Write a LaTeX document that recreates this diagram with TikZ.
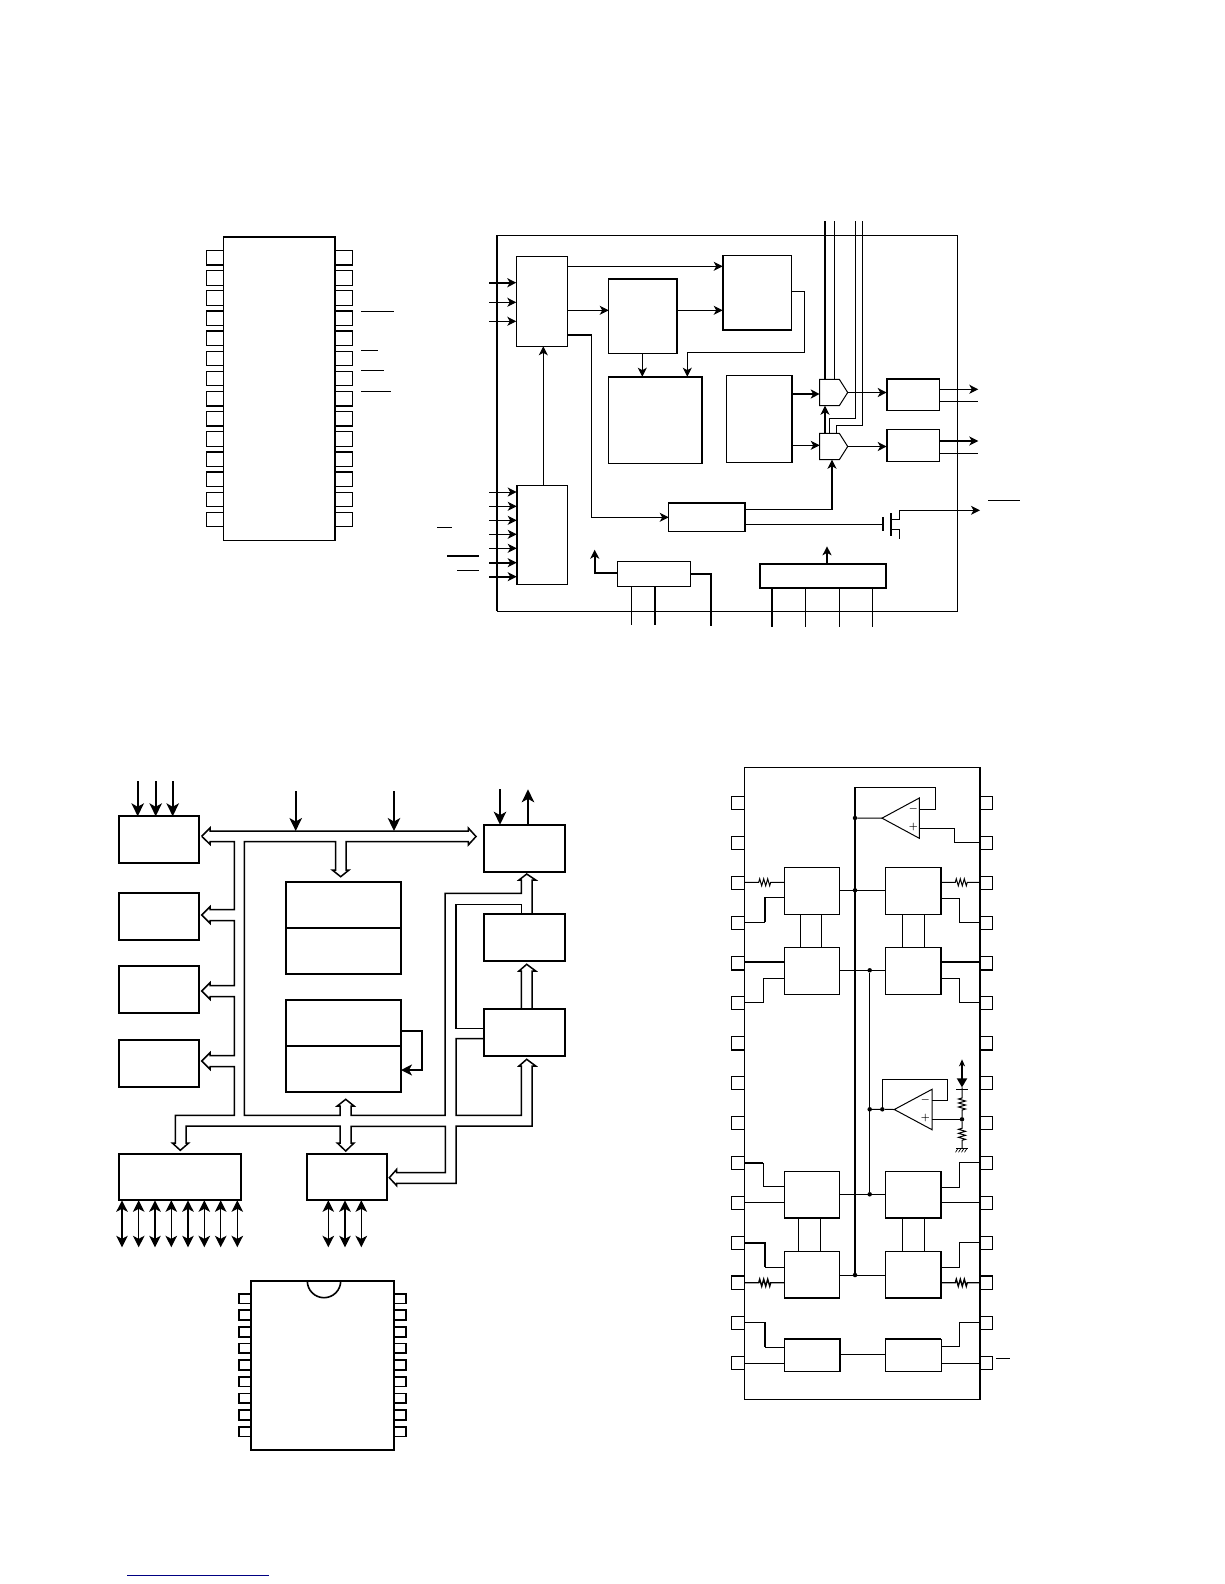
\documentclass[tikz,border=0pt]{standalone}
\usetikzlibrary{arrows.meta,calc}
\tikzset{
  box/.style={draw=black,line width=1pt,fill=white,rectangle,inner sep=0pt,outer sep=0pt,anchor=north west},
  hid/.style={rectangle,inner sep=0pt,outer sep=0pt,anchor=north west},
  wire/.style={line width=1pt,line join=miter},
  fat/.style={line width=1.9pt,line join=miter},
  ar/.style={-{Stealth[length=9pt,width=9pt,inset=2.5pt]}},
  dar/.style={{Stealth[length=11.5pt,width=11.5pt,inset=3pt]}-{Stealth[length=11.5pt,width=11.5pt,inset=3pt]}},
  hollow/.style={line width=1.5pt,line join=miter},
  dot/.style={circle,fill=black,inner sep=0pt,minimum size=4.5pt,outer sep=0pt},
  sign/.style={font=\fontsize{10}{10}\selectfont\boldmath,inner sep=0pt},
}
% [style], x1, y1, x2, y2, name
\newcommand{\bx}[6][]{%
  \pgfmathsetmacro{\bw}{#4-#2}\pgfmathsetmacro{\bh}{#5-#3}%
  \node[box,#1,minimum width=\bw pt,minimum height=\bh pt] (#6) at (#2,#3) {};}
\def\zigh{-- ++(1,-3.5) -- ++(2,7) -- ++(2,-7) -- ++(2,7) -- ++(2,-7) -- ++(2,7) -- ++(1,-3.5)}
\def\zigv{-- ++(-3.5,1) -- ++(7,2) -- ++(-7,2) -- ++(7,2) -- ++(-7,2) -- ++(7,2) -- ++(-3.5,1)}
\begin{document}
\begin{tikzpicture}[x=1pt,y=-1pt]
\useasboundingbox (0,0) rectangle (1224,1584);

%% ---------- first package ----------
\foreach \i in {0,...,13}{
  \pgfmathsetmacro{\py}{250.3+20.15*\i}
  \node[box,minimum width=17.5pt,minimum height=14.6pt] (aL\i) at (206.3,\py) {};
  \node[box,minimum width=17.5pt,minimum height=14.6pt] (aR\i) at (335.3,\py) {};
}
\foreach \i in {3,4,10,11}{
  \draw[fat] (aL\i.north west)--(aL\i.north east);
  \draw[fat] (aR\i.north west)--(aR\i.north east);
}
\foreach \i in {0,7,8}{
  \draw[fat] (aL\i.south west)--(aL\i.south east);
  \draw[fat] (aR\i.south west)--(aR\i.south east);
}
\node[box,line width=1.4pt,minimum width=112pt,minimum height=304pt] (icA) at (223.3,236.7) {};
\draw[fat] (icA.north west)--(icA.north east);
\draw[fat] (icA.north east)--(icA.south east);
\coordinate (ba1) at (361,311); \coordinate (ba1e) at (394,311);
\coordinate (ba2) at (361,350.3); \coordinate (ba2e) at (378,350.3);
\coordinate (ba3) at (361,370.3); \coordinate (ba3e) at (384,370.3);
\coordinate (ba4) at (361,391.3); \coordinate (ba4e) at (391,391.3);
\foreach \i in {1,2,3,4}{\draw[wire] (ba\i)--(ba\i e);}

%% ---------- first block diagram ----------
\bx{497}{235.3}{957.3}{611.3}{frame}
\draw[fat] (frame.north west)--(frame.south west);
\bx{516.3}{256.3}{567.7}{346.3}{A}
\bx{516.7}{485.3}{567.7}{584.3}{Bb}
\draw[fat] (Bb.north west)--(Bb.south west);
\bx{608.7}{278.7}{677}{353.3}{Cc}
\draw[fat] (Cc.north west)--(Cc.north east)--(Cc.south east);
\bx{608.7}{376.7}{702.3}{463.3}{Dd}
\draw[fat] (Dd.north west)--(Dd.north east)--(Dd.south east);
\bx{722.7}{255.3}{791.7}{330}{Ee}
\draw[fat] (Ee.north west)--(Ee.south west)--(Ee.south east);
\bx{726.3}{375.3}{792.3}{462.3}{Ff}
\draw[fat] (Ff.north east)--(Ff.south east);
\bx{668.7}{502.7}{745.3}{531.3}{Gg}
\draw[fat] (Gg.north west)--(Gg.north east)--(Gg.south east);
\bx{617.3}{561.3}{690.7}{586.3}{Hh}
\bx[line width=1.9pt]{760}{564}{886.3}{588}{Ii}
\bx{886.7}{378.7}{939.7}{410.3}{Jj}
\draw[fat] (Jj.south west)--(Jj.north west)--(Jj.north east);
\bx{886.7}{429.3}{939.7}{461.3}{Kk}
\draw[fat] (Kk.north west)--(Kk.south west);
\node[hid,minimum width=28pt,minimum height=26.4pt] (g1) at (819.7,379.3) {};
\node[hid,minimum width=28pt,minimum height=26.4pt] (g2) at (819.7,433.3) {};
\foreach \g in {g1,g2}{
  \draw[line width=1pt] (\g.north west) -- ($(\g.north east)+(-8.4,0)$) -- (\g.east) -- ($(\g.south east)+(-8.4,0)$) -- (\g.south west) -- cycle;
}
% inputs of A
\coordinate (ia1) at (489,282.7); \coordinate (ia2) at (489,302.3); \coordinate (ia3) at (489,321.3);
\draw[fat,ar] (ia1) -- (A.west |- ia1);
\draw[wire,ar] (ia2) -- (A.west |- ia2);
\draw[wire,ar] (ia3) -- (A.west |- ia3);
% inputs of B
\foreach \n/\y/\s in {1/492/wire,2/506.3/wire,3/520.3/wire,4/534.3/wire,5/548.3/wire,6/562.7/fat,7/576.7/fat}{
  \coordinate (ib\n) at (489,\y);
  \draw[\s,ar] (ib\n) -- (Bb.west |- ib\n);
}
\coordinate (ob1) at (437,527.3); \coordinate (ob1e) at (451.7,527.3);
\coordinate (ob2) at (447,556); \coordinate (ob2e) at (478.7,556);
\coordinate (ob3) at (457,570.3); \coordinate (ob3e) at (478.7,570.3);
\draw[wire] (ob1)--(ob1e); \draw[fat] (ob2)--(ob2e); \draw[wire] (ob3)--(ob3e);
% connections
\draw[wire,ar] (Bb.north -| 543.3,0) -- (A.south -| 543.3,0);
\draw[wire,ar] (A.east |- 0,266.3) -- (Ee.west |- 0,266.3);
\draw[wire,ar] (A.east |- 0,310.3) -- (Cc.west |- 0,310.3);
\draw[wire,ar] (Cc.east |- 0,310.3) -- (Ee.west |- 0,310.3);
\draw[fat] (A.east |- 0,334.7) -- (591.7,334.7);
\draw[wire,ar] (591.7,334.7) -- (591.7,517.3) -- (Gg.west |- 0,517.3);
\draw[wire,ar] (642.3,353.3) -- (642.3,376.7);
\draw[wire,ar] (Ee.east |- 0,291.3) -- (804.3,291.3) -- (804.3,352.3) -- (687.3,352.3) -- (Dd.north -| 687.3,0);
\draw[fat,ar] (Ff.east |- 0,394) -- (g1.west |- 0,394);
\draw[wire,ar] (Ff.east |- 0,445.3) -- (g2.west |- 0,445.3);
\draw[wire,ar] (g1.east) -- (Jj.west |- g1.east);
\draw[wire,ar] (g2.east) -- (Kk.west |- g2.east);
\coordinate (oj1) at (978.3,389.3); \coordinate (oj2) at (978,401.3);
\coordinate (ok1) at (978.3,441); \coordinate (ok2) at (978,453.3);
\draw[wire,ar] (Jj.east |- oj1) -- (oj1);
\draw[wire] (Jj.east |- oj2) -- (oj2);
\draw[fat,ar] (Kk.east |- ok1) -- (ok1);
\draw[wire] (Kk.east |- ok2) -- (ok2);
% top lines
\coordinate (t1) at (825,221); \coordinate (t2) at (834.3,221); \coordinate (t3) at (855.3,221); \coordinate (t4) at (862.3,221);
\draw[fat] (t1) -- (t1 |- g1.north);
\draw[wire] (t2) -- (t2 |- g1.north);
\draw[wire] (t3) -- (855.3,418.3) -- (829.3,418.3) -- (829.3,433.3);
\draw[wire] (t4) -- (862.3,425.3) -- (836.3,425.3) -- (836.3,433.3);
\draw[fat,ar] (g2.north -| 825,0) -- (g1.south -| 825,0);
\draw[wire] (Gg.east |- 0,509.3) -- (832.9,509.3);
\draw[fat,ar] (832,509.3) -- (g2.south -| 832,0);
% transistor
\coordinate (mg) at (883,524.3);
\draw[wire] (Gg.east |- mg) -- (mg);
\draw[line width=2pt] (883,517) -- (883,530.7);
\draw[line width=2pt] (891,513.3) -- (891,535.7);
\coordinate (mo) at (980,510.3);
\draw[wire,ar] (891,519) -- (899.3,519) -- (899.3,510.3) -- (mo);
\draw[wire] (891,529.3) -- (899.3,529.3) -- (899.3,538.7);
\coordinate (om) at (988,500.3); \coordinate (ome) at (1020,500.3);
\draw[wire] (om)--(ome);
% I block
\coordinate (iu) at (827,546.3);
\draw[fat,ar] (Ii.north -| iu) -- (iu);
\foreach \x/\s in {772/fat,805.7/wire,839.3/wire,872.3/wire}{
  \draw[\s] (Ii.south -| \x,0) -- (\x,627);
}
% H block
\coordinate (hu) at (594.7,549.7);
\draw[fat,ar] (Hh.west |- 0,573) -- (594.7,573) -- (hu);
\draw[wire] (Hh.south -| 631.3,0) -- (631.3,624.7);
\draw[fat] (Hh.south -| 655,0) -- (655,624.7);
\draw[fat] (Hh.east |- 0,574) -- (711,574) -- (711,625.7);

%% ---------- second block diagram ----------
\tikzset{b2/.style={line width=1.7pt}}
\bx[b2]{118.7}{816.3}{199.3}{863}{P1}
\bx[b2]{118.7}{892.7}{199.3}{940}{P2}
\bx[b2]{118.7}{965.7}{199.3}{1013}{P3}
\bx[b2]{118.7}{1040.3}{199.3}{1087}{P4}
\bx[b2]{285.7}{881.7}{401}{973.7}{M1}
\bx[b2]{285.7}{999.7}{401}{1092.3}{M2}
\bx[b2]{483.7}{824.7}{564.7}{872}{R1}
\bx[b2]{483.7}{913.7}{564.7}{961}{R2}
\bx[b2]{483.7}{1009}{564.7}{1056}{R3}
\bx[b2]{118.7}{1153.7}{241.3}{1200.3}{L1}
\bx[b2]{306.7}{1153.7}{387.3}{1200.3}{L2}
\draw[b2] (M1.west |- 0,927.7) -- (M1.east |- 0,927.7);
\draw[b2] (M2.west |- 0,1046) -- (M2.east |- 0,1046);
\tikzset{ar2/.style={line width=1.6pt,-{Stealth[length=13pt,width=12.5pt,inset=3.5pt]}}}
\foreach \n/\x in {a/137.7,b/155.7,c/172.7}{
  \coordinate (u\n) at (\x,781);
  \draw[ar2] (u\n) -- (P1.north -| u\n);
}
\coordinate (v1) at (295.7,791); \coordinate (v2) at (394,791);
\coordinate (bus) at (0,831);
\draw[ar2] (v1) -- (v1 |- bus);
\draw[ar2] (v2) -- (v2 |- bus);
\coordinate (r1i) at (500,789); \coordinate (r1o) at (528,789.3);
\draw[ar2] (r1i) -- (R1.north -| r1i);
\draw[ar2] (R1.north -| r1o) -- (r1o);
% hollow bus
\draw[hollow] (201.7,836.3) -- (210,828) -- (210,831) -- (468.3,831) -- (468.3,828) -- (476,836.5) -- (468.3,845) -- (468.3,841.7)
  -- (346,841.7) -- (346,870) -- (349,870) -- (340.7,876.7) -- (332.3,870) -- (335.7,870) -- (335.7,841.7) -- (244.3,841.7)
  -- (244.3,1115.3) -- (340,1115.3) -- (340,1106) -- (337.3,1106) -- (345.7,1099.3) -- (354,1106) -- (351,1106) -- (351,1115.3)
  -- (445,1115.3) -- (445,893.3) -- (521.3,893.3) -- (521.3,880) -- (519,880) -- (526.7,874) -- (535.7,880) -- (532,880) -- (532,913.7);
\draw[hollow] (521.3,913.7) -- (521.3,904.3) -- (456,904.3) -- (456,1028.3) -- (R3.west |- 0,1028.3);
\draw[hollow] (R3.west |- 0,1038.7) -- (456,1038.7) -- (456,1115.3) -- (521.3,1115.3) -- (521.3,1066) -- (519,1066) -- (526.7,1059.3)
  -- (535.7,1066) -- (532,1066) -- (532,1126) -- (456,1126) -- (456,1183.3) -- (396.7,1183.3) -- (396.7,1185.7) -- (389.3,1177.7)
  -- (396.7,1169.3) -- (396.7,1172.7) -- (445.3,1172.7) -- (445.3,1126.3) -- (351,1126.3) -- (351,1143) -- (354,1143) -- (345.7,1151)
  -- (337.3,1143) -- (340,1143) -- (340,1126) -- (186,1126) -- (186,1143) -- (188.7,1143) -- (180.3,1150.3) -- (172.3,1143)
  -- (175.3,1143) -- (175.3,1115.3) -- (234.3,1115.3) -- (234.3,1066.7) -- (210,1066.7) -- (210,1069.3) -- (201.7,1061)
  -- (210,1052.7) -- (210,1055.7) -- (234.3,1055.7) -- (234.3,996.7) -- (210,996.7) -- (210,999.3) -- (201.7,991)
  -- (210,982.7) -- (210,985.7) -- (234.3,985.7) -- (234.3,920.7) -- (210,920.7) -- (210,923.3) -- (201.7,915)
  -- (210,906.7) -- (210,909.7) -- (234.3,909.7) -- (234.3,841.7) -- (210,841.7) -- (210,844.3) -- (201.7,836.3);
% R3 to R2
\draw[hollow] (R3.north -| 521.3,0) -- (521.3,971) -- (519,971) -- (526.7,964.3) -- (535.7,971) -- (532,971) -- (R3.north -| 532,0);
% memory loop
\draw[line width=1.7pt,-{Stealth[length=11pt,width=11pt,inset=3pt]}] (M2.east |- 0,1030.7) -- (422,1030.7) -- (422,1070) -- (M2.east |- 0,1070);
% bidirectional
\tikzset{dd/.style={line width=1.4pt,dar}}
\foreach \n/\x in {a/122,b/138.7,c/155,d/171.3,e/188,f/204.3,g/220.7,h/237.3}{
  \coordinate (d\n) at (\x,1247.3);
  \draw[dd] (L1.south -| d\n) -- (d\n);
}
\foreach \n/\x in {k/328.3,l/345,m/361.3}{
  \coordinate (d\n) at (\x,1247.3);
  \draw[dd] (L2.south -| d\n) -- (d\n);
}
%% second package
\foreach \i in {0,...,8}{
  \pgfmathsetmacro{\py}{1293.7+16.62*\i}
  \node[box,line width=1.7pt,minimum width=12.3pt,minimum height=9.7pt] (cL\i) at (238.7,\py) {};
  \node[box,line width=1.7pt,minimum width=12.3pt,minimum height=9.7pt] (cR\i) at (394,\py) {};
}
\bx[b2]{251}{1281}{394}{1450}{icC}
\draw[line width=1.6pt] ($(icC.north west)+(56.3,0)$) arc[start angle=180,end angle=0,radius=16.7];

%% ---------- third block diagram ----------
\foreach \i in {0,...,14}{
  \pgfmathsetmacro{\py}{796.3+40*\i}
  \node[box,minimum width=13.4pt,minimum height=13.4pt] (eL\i) at (731.3,\py) {};
  \node[box,minimum width=12.7pt,minimum height=13.4pt] (eR\i) at (980,\py) {};
}
\foreach \i in {4,6}{
  \draw[fat] (eL\i.south west)--(eL\i.south east);
  \draw[fat] (eR\i.south west)--(eR\i.south east);
}
\draw[fat] (eL12.north west)--(eL12.north east);
\draw[fat] (eR12.north west)--(eR12.north east);
\bx{744.7}{767.3}{980}{1399.7}{icE}
\draw[fat] (icE.north east)--(icE.south east);
\bx{784.3}{867.3}{839.3}{914.3}{U1}
\bx{784.3}{947.3}{839.3}{994.3}{U2}
\bx{885.3}{867.3}{941.3}{914.3}{U3}
\bx{885.3}{947.3}{941.3}{994.3}{U4}
\bx{784.3}{1171.3}{839.3}{1218}{U5}
\bx{784.3}{1251.3}{839.3}{1298.3}{U6}
\bx{885.3}{1171.3}{941.3}{1218}{U7}
\bx{885.3}{1251.3}{941.3}{1298.3}{U8}
\bx{784.3}{1339}{840}{1371.3}{U9}
\bx{885.3}{1339}{941.3}{1371.3}{U10}
\draw[fat] (U3.north east)--(U3.south east);
\draw[fat] (U4.north east)--(U4.south east);
\foreach \u in {U5,U6,U7,U8}{\draw[fat] (\u.south west)--(\u.south east);}
\draw[fat] (U7.north east)--(U7.south east);
\draw[fat] (U8.north east)--(U8.south east);
\draw[fat] (U9.south east)--(U9.north east)--(U9.north west);
\draw[fat] (U10.north west)--(U10.north east);
% op amps
\node[hid,minimum width=37.3pt,minimum height=40.3pt] (oa1) at (882,798) {};
\node[hid,minimum width=37.7pt,minimum height=40.4pt] (oa2) at (894.3,1089.3) {};
\foreach \o in {oa1,oa2}{\draw[line width=1pt] (\o.west) -- (\o.north east) -- (\o.south east) -- cycle;}
\node[sign] (m1) at (913.3,809.3) {$-$};
\node[sign] (p1) at (913.3,827.3) {$+$};
\node[sign] (m2) at (925.3,1100.3) {$-$};
\node[sign] (p2) at (925.3,1118.3) {$+$};
% power rails
\draw[line width=1.7pt] (855,1275) -- (855,787.3);
\draw[wire] (855,787.3) -- (935.3,787.3) -- (935.3,809.3) -- (oa1.east |- 0,809.3);
\node[dot] (d1) at (855,818) {};
\node[dot] (d2) at (855,890.3) {};
\node[dot] (d3) at (869.7,970.3) {};
\node[dot] (d4) at (869.7,1194.3) {};
\node[dot] (d5) at (855,1275) {};
\node[dot] (d6) at (869.7,1109.3) {};
\node[dot] (d7) at (882.3,1109.3) {};
\node[dot] (d8) at (962,1119.3) {};
\draw[wire] (d1) -- (oa1.west);
\draw[wire] (oa1.east |- 0,828.3) -- (954.3,828.3) -- (954.3,842.3) -- (icE.east |- 0,842.3);
\draw[wire] (U1.east |- d2) -- (U3.west |- d2);
\draw[wire] (U2.east |- d3) -- (U4.west |- d3);
\draw[wire] (d3) -- (d4);
\draw[wire] (U5.east |- d4) -- (U7.west |- d4);
\draw[wire] (U6.east |- d5) -- (U8.west |- d5);
\draw[wire] (U9.east |- 0,1354.3) -- (U10.west |- 0,1354.3);
\draw[wire] (d6) -- (d7) -- (oa2.west);
\draw[wire] (d7) -- (882.3,1079.3) -- (947.3,1079.3) -- (947.3,1100.3) -- (oa2.east |- 0,1100.3);
\draw[wire] (oa2.east |- d8) -- (d8);
% links
\foreach \a/\b/\x in {U1/U2/800.3,U1/U2/821.3,U3/U4/902.7,U3/U4/924.3,U5/U6/798.7,U5/U6/820.3,U7/U8/902.7,U7/U8/924.3}{
  \draw[wire] (\a.south -| \x,0) -- (\b.north -| \x,0);
}
% left routes
\draw[wire] (icE.west |- 0,882.3) -- (758.7,882.3) \zigh -- (U1.west |- 0,882.3);
\draw[wire] (U1.west |- 0,897.3) -- (765,897.3);
\draw[line width=1.5pt] (765,897.3) -- (765,922.3);
\draw[wire] (765,922.3) -- (icE.west |- 0,922.3);
\draw[fat] (icE.west |- 0,961.7) -- (U2.west |- 0,961.7);
\draw[wire] (U2.west |- 0,978.3) -- (763.3,978.3) -- (763.3,1002.3) -- (icE.west |- 0,1002.3);
\draw[fat] (icE.west |- 0,1163) -- (763.3,1163);
\draw[wire] (763.3,1163) -- (763.3,1186.3) -- (U5.west |- 0,1186.3);
\draw[wire] (icE.west |- 0,1202.3) -- (U5.west |- 0,1202.3);
\draw[fat] (icE.west |- 0,1243) -- (765,1243) -- (765,1267.3);
\draw[wire] (765,1267.3) -- (U6.west |- 0,1267.3);
\draw[line width=1.4pt] (icE.west |- 0,1282.7) -- (758.7,1282.7) \zigh -- (U6.west |- 0,1282.7);
\draw[wire] (icE.west |- 0,1322.3) -- (765,1322.3);
\draw[line width=1.5pt] (765,1322.3) -- (765,1347.3);
\draw[wire] (765,1347.3) -- (U9.west |- 0,1347.3);
\draw[wire] (icE.west |- 0,1363.3) -- (U9.west |- 0,1363.3);
% right routes
\draw[wire] (U3.east |- 0,882.3) -- (955.3,882.3) \zigh -- (icE.east |- 0,882.3);
\draw[wire] (U3.east |- 0,898.3) -- (959.3,898.3) -- (959.3,922.3) -- (icE.east |- 0,922.3);
\draw[fat] (U4.east |- 0,961.7) -- (icE.east |- 0,961.7);
\draw[wire] (U4.east |- 0,978.3) -- (959.3,978.3) -- (959.3,1002.3) -- (icE.east |- 0,1002.3);
\draw[wire] (U7.east |- 0,1187.3) -- (959.3,1187.3) -- (959.3,1162.3) -- (icE.east |- 0,1162.3);
\draw[wire] (U7.east |- 0,1202.3) -- (icE.east |- 0,1202.3);
\draw[wire] (U8.east |- 0,1267.3) -- (959.3,1267.3) -- (959.3,1242.3) -- (icE.east |- 0,1242.3);
\draw[line width=1.4pt] (U8.east |- 0,1282.7) -- (955.3,1282.7) \zigh -- (icE.east |- 0,1282.7);
\draw[wire] (U10.east |- 0,1346.3) -- (959.3,1346.3) -- (959.3,1322.3) -- (icE.east |- 0,1322.3);
\draw[wire] (U10.east |- 0,1363.3) -- (icE.east |- 0,1363.3);
% diode and divider
\coordinate (dt) at (962,1059.3);
\draw[line width=1.7pt,<-,>={Stealth[length=7pt,width=6pt,inset=2pt]}] (dt) -- (962,1080);
\fill (956.7,1078.3) -- (967.3,1078.3) -- (962,1087.3) -- cycle;
\draw[wire] (956,1089.3) -- (968,1089.3);
\draw[wire] (962,1087.3) -- (962,1098) \zigv -- (d8);
\draw[wire] (d8) -- (962,1128.3) \zigv -- (962,1148.3);
\draw[wire] (956,1148.3) -- (968,1148.3);
\foreach \x in {958,961,964,967}{\draw[line width=0.7pt] (\x,1148.3) -- (\x-2.5,1152.3);}
\coordinate (obE) at (996,1358.3); \coordinate (obEe) at (1010,1358.3);
\draw[wire] (obE) -- (obEe);

%% footer rule
\coordinate (fa) at (127,1575); \coordinate (fb) at (269,1575);
\draw[line width=1pt,color={rgb,255:red,0;green,0;blue,130}] (fa) -- (fb);
\end{tikzpicture}
\end{document}
